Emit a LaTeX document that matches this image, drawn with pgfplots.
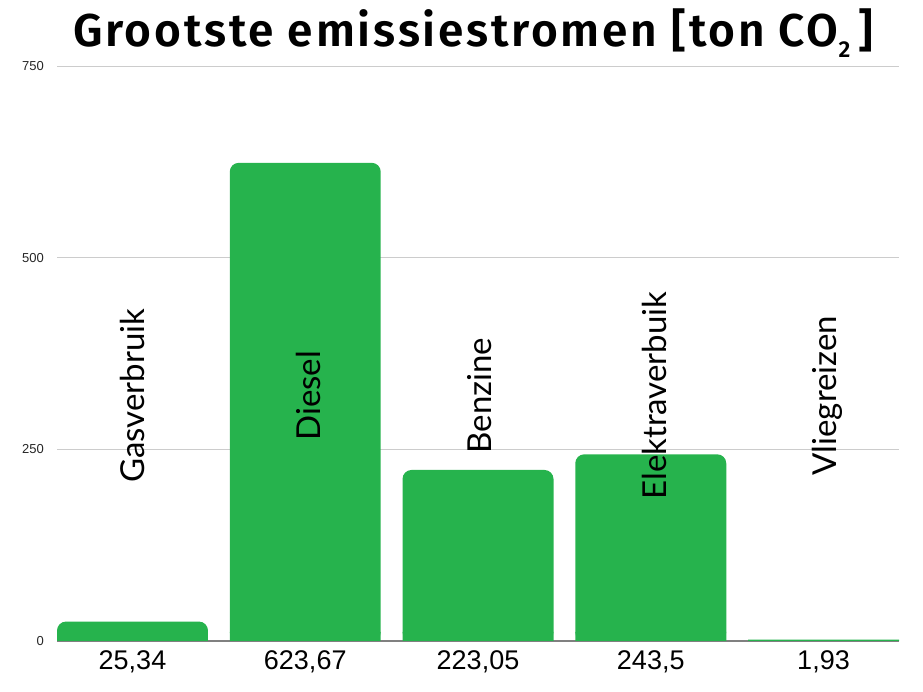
\documentclass[border=0pt]{standalone}
\usepackage{fontspec}
\setmainfont{Liberation Sans}
\newfontfamily\labfont{Lato}
\newfontfamily\titlefont[LetterSpace=6]{Fira Sans SemiBold}
\usepackage{pgfplots}
\pgfplotsset{compat=1.18}
\usepackage{pgfplotstable}
\definecolor{bargreen}{RGB}{38,179,77}
\definecolor{gridgray}{RGB}{204,204,204}
\definecolor{basegray}{RGB}{128,128,128}
\pgfplotstableread{
x y
0 25.34
1 623.67
2 223.05
3 243.5
4 1.93
}\emissions
\begin{document}
\begin{tikzpicture}
\useasboundingbox (-57pt,-51pt) rectangle (866pt,641pt);
\begin{axis}[
  scale only axis,
  width=842pt, height=575pt,
  xmin=-0.437, xmax=4.437,
  ymin=0, ymax=750,
  ytick={0,250,500,750},
  xtick={0,1,2,3,4},
  xticklabels={{25,34},{623,67},{223,05},{243,5},{1,93}},
  axis line style={draw=none},
  major tick length=0pt,
  ymajorgrids,
  grid style={draw=gridgray, line width=0.9pt},
  /pgf/number format/assume math mode=true,
  yticklabel style={font=\fontsize{13}{13}\selectfont, inner sep=0pt, anchor=east, xshift=-13pt, text=black!85},
  xticklabel style={font=\fontsize{27}{27}\selectfont, inner sep=0pt, anchor=north, yshift=-9pt},
  clip=false,
]
\draw[basegray, line width=1.3pt] (axis cs:-0.437,0) -- (axis cs:4.437,0);
\addplot[ybar, bar width=0.874, fill=bargreen, draw=none, rounded corners=9pt, skip coords between index={4}{5}] table[x=x,y=y] {\emissions};
\addplot[ybar, bar width=0.874, fill=bargreen, draw=none, y filter/.expression={min(y,12)}] table[x=x,y=y] {\emissions};
\node[rotate=90, font=\labfont\fontsize{33}{33}\selectfont] at (axis cs:0,320) {Gasverbruik};
\node[rotate=90, font=\labfont\fontsize{33}{33}\selectfont] at (axis cs:1.02,320) {Diesel};
\node[rotate=90, font=\labfont\fontsize{33}{33}\selectfont] at (axis cs:2.01,320) {Benzine};
\node[rotate=90, font=\labfont\fontsize{33}{33}\selectfont] at (axis cs:3.02,320) {Elektraverbuik};
\node[rotate=90, font=\labfont\fontsize{33}{33}\selectfont] at (axis cs:4.02,320) {Vliegreizen};
\end{axis}
\node[anchor=base, font=\titlefont\fontsize{46}{46}\selectfont] at (416pt,594pt) {Grootste emissiestromen [ton CO\raisebox{-0.22em}{\fontsize{23}{23}\selectfont 2}\,]};
\end{tikzpicture}
\end{document}
